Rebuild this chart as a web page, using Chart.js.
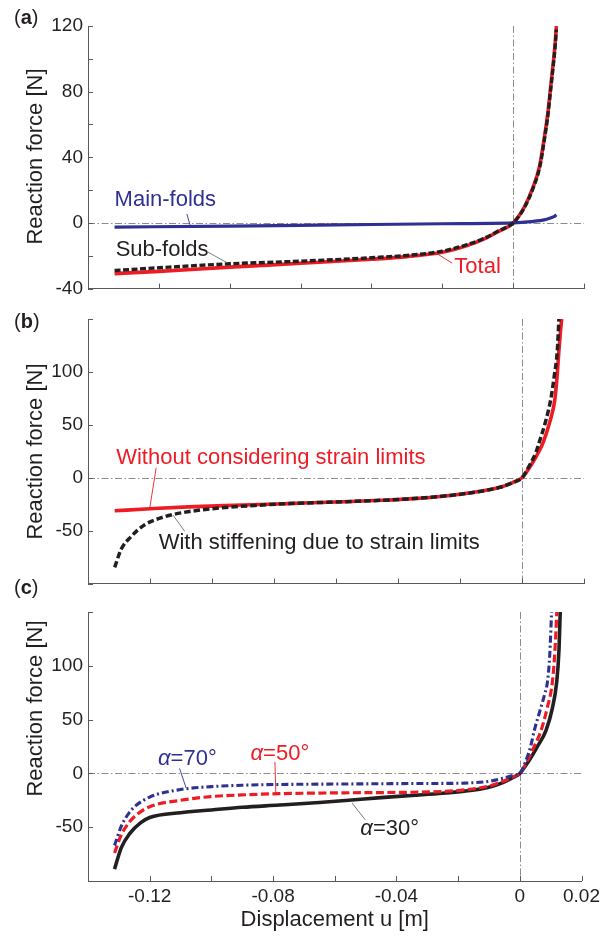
<!DOCTYPE html>
<html><head><meta charset="utf-8">
<script src="https://cdn.jsdelivr.net/npm/chart.js@4.4.1/dist/chart.umd.min.js"></script>
<style>
html,body{margin:0;padding:0;background:#fff;}
body{width:604px;height:938px;position:relative;overflow:hidden;}
canvas{position:absolute;left:0;}
</style></head><body>
<canvas id="ca" width="604" height="305" style="top:0px;width:604px;height:305px"></canvas>
<canvas id="cb" width="604" height="300" style="top:300px;width:604px;height:300px"></canvas>
<canvas id="cc" width="604" height="363" style="top:575px;width:604px;height:363px"></canvas>
<script>
// ---------- data ----------
// Panel (a)
const uA        = [-0.1125,-0.1,-0.08,-0.06,-0.04,-0.03,-0.02,-0.013,-0.008,-0.004,0,0.003,0.0055,0.0075,0.0088,0.0098,0.0106,0.0113,0.0118,0.0122];
const totalA    = [-30.9,-29.5,-26.9,-24.6,-22.1,-20.5,-17.9,-13.8,-9.6,-5,0,9,21,35,52,67,83,97,108,120];
const subFoldsA = [-29,-27.3,-24.9,-23.3,-21.2,-19.8,-17.2,-13.2,-9.2,-4.7,0,8.7,20.5,34,50.5,65.5,81.5,95.5,106,118];
const uMainA    = [-0.1125,-0.08,-0.05,-0.02,0,0.005,0.009,0.0115,0.0122];
const mainFoldsA= [-2.5,-1.9,-1.2,-0.5,0,0.8,2,3.8,5];

// Panel (b)
const uWithoutB = [-0.1314,-0.12,-0.1077,-0.09,-0.0755,-0.06,-0.0454,-0.035,-0.0232,-0.015,-0.0071,-0.003,0,0.0031,0.0055,0.0069,0.009,0.0106,0.0113,0.0119,0.0124,0.0128];
const withoutB  = [-31.2,-29.3,-27.5,-25.8,-24.4,-22.9,-21.3,-19.7,-16.7,-13.5,-9,-4.5,0,12.7,25,34,53,74,95,120,138,150];
const uWithB    = [-0.1314,-0.1293,-0.126,-0.1217,-0.1153,-0.1077,-0.097,-0.0862,-0.075,-0.06,-0.0454,-0.035,-0.0232,-0.015,-0.0071,-0.003,0,0.0026,0.0045,0.0056,0.0075,0.0093,0.0104,0.0114,0.0119];
const withB     = [-84.6,-67.6,-55.3,-44.4,-36.8,-32.1,-28.4,-26.2,-24.4,-22.9,-21.3,-19.7,-16.7,-13.5,-9,-4.5,0,12.7,24,34,52,74.4,96,120.6,150];

// Panel (c)
const u30 = [-0.1314,-0.1292,-0.1265,-0.123,-0.12,-0.11,-0.1,-0.09,-0.078,-0.065,-0.0555,-0.045,-0.035,-0.025,-0.018,-0.0103,-0.0055,-0.002,0,0.003,0.0055,0.0085,0.0105,0.012,0.0127,0.0131];
const f30 = [-89,-69,-56,-46,-41,-36.5,-34,-31.5,-29.4,-27,-25,-22.5,-20.5,-18.5,-16.5,-13,-8.5,-3.5,0,12,24,40,60,86,115,150];
const u50 = [-0.1314,-0.1292,-0.1265,-0.1245,-0.12,-0.11,-0.1,-0.09,-0.078,-0.065,-0.0555,-0.045,-0.035,-0.025,-0.018,-0.0103,-0.0055,-0.002,0,0.0025,0.0045,0.0069,0.0088,0.0106,0.0114,0.012];
const f50 = [-74,-57,-45,-39,-31,-25,-21.5,-20,-18.8,-18.3,-18,-17.8,-17.5,-16.8,-15.3,-12,-7.5,-3,0,12,24,40,60,86,115,150];
const u70 = [-0.1314,-0.1292,-0.1265,-0.1245,-0.12,-0.11,-0.1,-0.09,-0.078,-0.065,-0.0555,-0.045,-0.035,-0.025,-0.018,-0.0103,-0.0055,-0.002,0,0.002,0.0035,0.0047,0.0065,0.008,0.009,0.0097,0.0103];
const f70 = [-67,-49,-36,-30,-22,-15,-12.3,-11,-10.3,-10,-9.8,-9.6,-9.4,-9.3,-9,-7.5,-4.5,-1.8,0,12,25,40,58,73,86,110,150];

// tick labels shown
const yLabelsA  = [-40,0,40,80,120];
const yLabelsBC = [-50,0,50,100];
const xLabelsC  = [-0.12,-0.08,-0.04,0,0.02];

// ---------- styling ----------
const BLACK='#231f20', RED='#ed1c24', BLUE='#2e3192', AXIS='#58595b', ZERO='#8c8c8c', LEAD='#6d6e71';
const FAMILY = "'Liberation Sans', Arial, Helvetica, sans-serif";
Chart.defaults.font.family = FAMILY;
Chart.defaults.color = BLACK;

function pts(xs, ys){ return xs.map((x,i)=>({x:x, y:ys[i]})); }
function series(xs, ys, color, width, dash){
  return {data: pts(xs,ys), borderColor: color, borderWidth: width, borderDash: dash||[],
          pointRadius:0, pointHoverRadius:0, fill:false, cubicInterpolationMode:'monotone'};
}
function inList(list, v){ return list.some(l => Math.abs(l - v) < 1e-9); }

function xScale(min, max, labels, showTitle, h){
  return {type:'linear', min:min, max:max, position:'bottom',
    grid:{display:false, drawTicks:false},
    border:{display:true, color:AXIS, width:1},
    ticks:{stepSize:0.02, autoSkip:false, maxRotation:0, padding:4, font:{size:19}, color:BLACK,
      display: labels.length>0,
      callback:(v)=> inList(labels, v) ? String(+Number(v).toFixed(2)) : ''},
    title:{display:showTitle, text:'Displacement u [m]', font:{size:22}, color:BLACK, padding:{top:0,bottom:5}},
    afterFit:(s)=>{ s.height = h; }
  };
}
function yScale(min, max, step, labels){
  return {type:'linear', min:min, max:max, position:'left',
    grid:{display:false, drawTicks:false},
    border:{display:true, color:AXIS, width:1},
    ticks:{stepSize:step, autoSkip:false, padding:5, font:{size:19}, color:BLACK,
      callback:(v)=> inList(labels, v) ? String(v) : ''},
    title:{display:false},
    afterFit:(s)=>{ s.width = 88; }
  };
}

// decorations: zero lines, inward ticks, notes, panel letter, y title
function makeDecor(cfg){
  return {
    id:'decor',
    beforeDatasetsDraw(chart){
      const ctx = chart.ctx, ca = chart.chartArea, x = chart.scales.x, y = chart.scales.y;
      ctx.save();
      ctx.strokeStyle = ZERO; ctx.lineWidth = 1; ctx.setLineDash([7,2.5,1.5,2.5]);
      const y0 = Math.round(y.getPixelForValue(0)) + 0.5;
      const x0 = Math.round(x.getPixelForValue(0)) + 0.5;
      ctx.beginPath();
      ctx.moveTo(ca.left, y0); ctx.lineTo(ca.right, y0);
      ctx.moveTo(x0, ca.top); ctx.lineTo(x0, ca.bottom);
      ctx.stroke();
      ctx.setLineDash([]);
      ctx.strokeStyle = AXIS; ctx.lineWidth = 1;
      ctx.beginPath();
      x.ticks.forEach(t => { const p = Math.round(x.getPixelForValue(t.value)) + 0.5;
        ctx.moveTo(p, ca.bottom); ctx.lineTo(p, ca.bottom - 5); });
      y.ticks.forEach(t => { const p = Math.round(y.getPixelForValue(t.value)) + 0.5;
        ctx.moveTo(ca.left, p); ctx.lineTo(ca.left + 5, p); });
      ctx.stroke();
      ctx.restore();
    },
    afterDatasetsDraw(chart){
      const ctx = chart.ctx, x = chart.scales.x, y = chart.scales.y;
      ctx.save();
      cfg.notes.forEach(n => {
        ctx.strokeStyle = n.leadColor; ctx.lineWidth = 0.9;
        ctx.beginPath();
        ctx.moveTo(x.getPixelForValue(n.lead[0]), y.getPixelForValue(n.lead[1]));
        ctx.lineTo(x.getPixelForValue(n.lead[2]), y.getPixelForValue(n.lead[3]));
        ctx.stroke();
        let px = x.getPixelForValue(n.at[0]);
        const py = y.getPixelForValue(n.at[1]);
        ctx.fillStyle = n.color; ctx.textAlign = 'left'; ctx.textBaseline = 'alphabetic';
        n.parts.forEach(p => {
          ctx.font = (p[1] ? 'italic ' : '') + '22px ' + FAMILY;
          ctx.fillText(p[0], px, py);
          px += ctx.measureText(p[0]).width;
        });
      });
      // panel letter
      let lx = 14;
      ctx.fillStyle = BLACK; ctx.textAlign = 'left'; ctx.textBaseline = 'alphabetic';
      [['(', ''], [cfg.letter, 'bold '], [')', '']].forEach(p => {
        ctx.font = p[1] + '20px ' + FAMILY;
        ctx.fillText(p[0], lx, cfg.letterBase);
        lx += ctx.measureText(p[0]).width;
      });
      // y axis title
      ctx.save();
      ctx.translate(36, cfg.yTitleMid);
      ctx.rotate(-Math.PI/2);
      ctx.font = '22px ' + FAMILY; ctx.textAlign = 'center'; ctx.textBaseline = 'middle';
      ctx.fillText('Reaction force [N]', 0, 0);
      ctx.restore();
      ctx.restore();
    }
  };
}

function build(id, datasets, xs, ys, padding, decor){
  return new Chart(document.getElementById(id), {
    type:'line',
    data:{datasets:datasets},
    options:{
      responsive:false, animation:false, devicePixelRatio:1, events:[],
      layout:{padding:padding},
      plugins:{legend:{display:false}, tooltip:{enabled:false}},
      scales:{x:xs, y:ys}
    },
    plugins:[makeDecor(decor)]
  });
}

// ---------- panel (a) ----------
build('ca', [
  series(uA, subFoldsA, BLACK, 3.4, [6,2.5]),
  series(uMainA, mainFoldsA, BLUE, 3.2),
  series(uA, totalA, RED, 3.6)
], xScale(-0.12, 0.02, [], false, 4), yScale(-40, 120, 20, yLabelsA),
 {left:0, right:20, top:26, bottom:5},
 {letter:'a', letterBase:23.5, yTitleMid:156.5, notes:[
   {parts:[['Main-folds',0]], color:BLUE, at:[-0.1125, 10.2], lead:[-0.0921,5.5,-0.0912,-1.2], leadColor:BLUE},
   {parts:[['Sub-folds',0]], color:BLACK, at:[-0.1122, -20.3], lead:[-0.0862,-17.7,-0.0806,-24.4], leadColor:LEAD},
   {parts:[['Total',0]], color:RED, at:[-0.0166,-30.5], lead:[-0.0172,-24.5,-0.0218,-18.3], leadColor:RED}
 ]});

// ---------- panel (b) ----------
build('cb', [
  series(uWithB, withB, BLACK, 3.5, [6.5,3]),
  series(uWithoutB, withoutB, RED, 3.6)
], xScale(-0.14, 0.02, [], false, 4), yScale(-100, 150, 50, yLabelsBC),
 {left:0, right:20, top:19, bottom:7},
 {letter:'b', letterBase:28.4, yTitleMid:151.5, notes:[
   {parts:[['Without considering strain limits',0]], color:RED, at:[-0.1309, 12.6], lead:[-0.118,9.5,-0.1201,-29], leadColor:RED},
   {parts:[['With stiffening due to strain limits',0]], color:BLACK, at:[-0.1172,-67.6], lead:[-0.1088,-50.6,-0.1126,-35.2], leadColor:LEAD}
 ]});

// ---------- panel (c) ----------
build('cc', [
  series(u70, f70, BLUE, 3.1, [7,3,2,3]),
  series(u50, f50, RED, 3.2, [8,3.5]),
  series(u30, f30, BLACK, 3.6)
], xScale(-0.14, 0.02, xLabelsC, true, 57), yScale(-100, 150, 50, yLabelsBC),
 {left:0, right:20, top:37, bottom:0},
 {letter:'c', letterBase:19.4, yTitleMid:133.5, notes:[
   {parts:[['α',1],['=70°',0]], color:BLUE, at:[-0.1173, 7.7], lead:[-0.1103,4.6,-0.1082,-13.5], leadColor:BLUE},
   {parts:[['α',1],['=50°',0]], color:RED, at:[-0.0873, 12.3], lead:[-0.0794,10.7,-0.0791,-18], leadColor:RED},
   {parts:[['α',1],['=30°',0]], color:BLACK, at:[-0.0517,-57.1], lead:[-0.0501,-43.2,-0.0544,-27.5], leadColor:LEAD}
 ]});
</script>
</body></html>
